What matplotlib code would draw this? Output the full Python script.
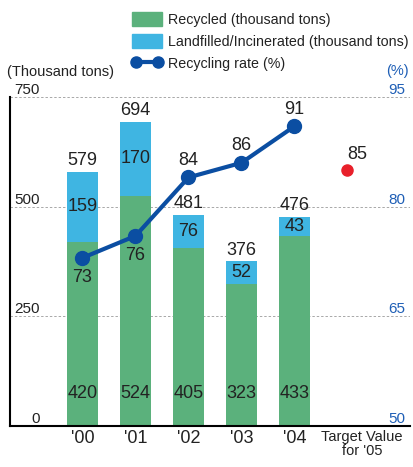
import matplotlib
matplotlib.use("Agg")
import matplotlib.pyplot as plt
from matplotlib.patches import Patch
from matplotlib.lines import Line2D
import numpy as np

plt.rcParams['font.family'] = ['Liberation Sans', 'DejaVu Sans']

# waste data, thousand tons
years = ["'00", "'01", "'02", "'03", "'04"]
recycled = [420, 524, 405, 323, 433]
landfilled = [159, 170, 76, 52, 43]
totals = [579, 694, 481, 376, 476]
rate = [73, 76, 84, 86, 91]
target_label = "Target Value\nfor '05"
target_rate = 85

left_ticks = [0, 250, 500, 750]
right_ticks = [50, 65, 80, 95]

GREEN = '#5bb17c'
CYAN = '#3fb5e2'
NAVY = '#0b4ea2'
BLUE_TXT = '#1f5fb6'
RED = '#e8202a'
TXT = '#222222'

fig = plt.figure(figsize=(4.13, 4.67), dpi=100)
ax = fig.add_axes([10/413, 41/467, 400/413, 329/467])

x = np.arange(len(years))
w = 0.585
ax.bar(x, recycled, w, color=GREEN, zorder=2)
ax.bar(x, landfilled, w, bottom=recycled, color=CYAN, zorder=2)

ax.set_xlim(-1.368, 6.18)
ax.set_ylim(0, 750)

# dashed guides instead of ticks
for t in left_ticks[1:]:
    ax.axhline(t, color='#a8a8a8', lw=0.7, ls=(0, (2.5, 2)), zorder=1)

for s in ['top', 'right']:
    ax.spines[s].set_visible(False)
ax.spines['left'].set_linewidth(1.5)
ax.spines['bottom'].set_linewidth(1.5)
ax.set_yticks([])
ax.set_xticks(x)
ax.set_xticklabels(years, fontsize=13, color=TXT)
ax.tick_params(axis='x', length=0, pad=3)
ax.text(5.27, -10, target_label, ha='center', va='top', fontsize=10.5,
        color=TXT, linespacing=1.0)

# axis values written inside the plot, above the guides
for lt, rt in zip(left_ticks, right_ticks):
    ax.text(0.075, lt, str(lt), transform=ax.get_yaxis_transform(),
            ha='right', va='bottom', fontsize=11, color=TXT)
    ax.text(0.9875, lt, str(rt), transform=ax.get_yaxis_transform(),
            ha='right', va='bottom', fontsize=11, color=BLUE_TXT)

# bar labels
for xi, r, l, t in zip(x, recycled, landfilled, totals):
    ax.text(xi, 75, str(r), ha='center', va='center', fontsize=13, color=TXT, zorder=3)
    ax.text(xi, r + l / 2, str(l), ha='center', va='center', fontsize=13, color=TXT, zorder=3)
    ax.annotate(str(t), (xi, r + l), xytext=(0, 2), textcoords='offset points',
                ha='center', va='bottom', fontsize=13, color=TXT)

# recycling rate on the right scale
ax2 = ax.twinx()
ax2.set_ylim(50, 95)
ax2.set_yticks([])
for s in ax2.spines.values():
    s.set_visible(False)
ax2.plot(x, rate, color=NAVY, lw=3, marker='o', ms=10, zorder=4)
for i, (xi, r) in enumerate(zip(x, rate)):
    if i < 2:
        ax2.annotate(str(r), (xi, r), xytext=(0, -8), textcoords='offset points',
                     ha='center', va='top', fontsize=13, color=TXT)
    else:
        ax2.annotate(str(r), (xi, r), xytext=(0, 6), textcoords='offset points',
                     ha='center', va='bottom', fontsize=13, color=TXT)
ax2.plot([5], [target_rate], 'o', color=RED, ms=8, zorder=4)
ax2.annotate(str(target_rate), (5, target_rate), xytext=(7, 5), textcoords='offset points',
             ha='center', va='bottom', fontsize=13, color=TXT)

fig.text(7/413, 1 - 72/467, '(Thousand tons)', ha='left', va='center',
         fontsize=10.5, color=TXT)
fig.text(397/413, 1 - 71/467, '(%)', ha='center', va='center',
         fontsize=10.5, color=BLUE_TXT)

handles = [Patch(color=GREEN), Patch(color=CYAN),
           Line2D([], [], color=NAVY, lw=3, marker='o', ms=8)]
labels = ['Recycled (thousand tons)', 'Landfilled/Incinerated (thousand tons)',
          'Recycling rate (%)']
fig.legend(handles, labels, loc='upper left', bbox_to_anchor=(132/413, 1 - 12/467),
           frameon=False, fontsize=10.3, handlelength=2.1, handleheight=1.15,
           handletextpad=0.4, labelspacing=0.48, borderpad=0, borderaxespad=0,
           numpoints=2, labelcolor=TXT)

fig.savefig('out.png', dpi=100)
